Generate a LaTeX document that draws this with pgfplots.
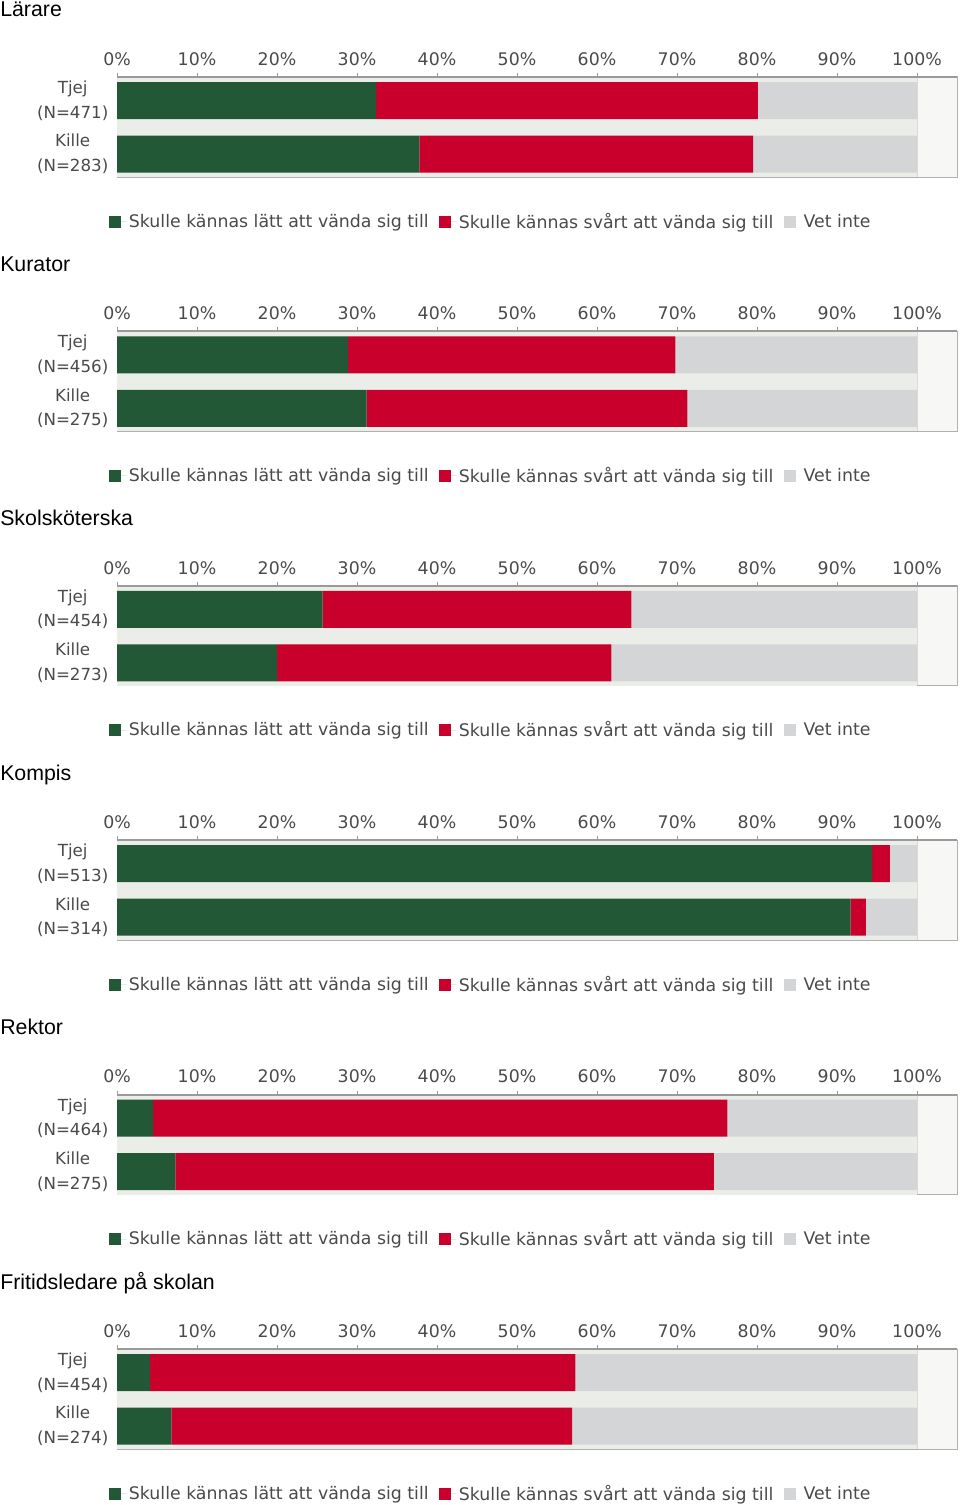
\documentclass[border=0pt]{standalone}
\usepackage{pgfplots}
\pgfplotsset{compat=1.18}
\usepackage{fontspec}
\setmainfont{Liberation Sans}
\newfontfamily\dejavu{DejaVu Sans}
\definecolor{cgreen}{HTML}{225835}
\definecolor{cred}{HTML}{C8002B}
\definecolor{cgray}{HTML}{D4D5D7}
\definecolor{bgout}{HTML}{F7F7F5}
\definecolor{bgin}{HTML}{EBEEE8}
\definecolor{gridc}{HTML}{DADDD6}
\definecolor{labc}{HTML}{4A4A4A}
\definecolor{framec}{HTML}{B0B0B0}
\definecolor{topc}{HTML}{9A9A9A}
\newcommand{\bgband}{\fill[on layer=axis background, bgin] (axis cs:0,-0.43) rectangle (axis cs:100,1.44);}
\pgfplotsset{
  panel/.style={
    set layers,
    scale only axis, width=630pt, height=75pt,
    anchor=north west,
    xbar stacked, bar width=27.75pt,
    xmin=0, xmax=105, ymin=-0.43, ymax=1.44,
    xtick={0,10,20,30,40,50,60,70,80,90,100},
    xticklabels={0\%,10\%,20\%,30\%,40\%,50\%,60\%,70\%,80\%,90\%,100\%},
    xtick pos=right, xticklabel pos=right,
    tick align=outside, major tick length=3pt,
    xtick style={draw=topc, line width=0.75pt},
    ytick={0,1}, ytick style={draw=none},
    xmajorgrids, grid style={draw=gridc, line width=0.75pt},
    axis background/.style={fill=bgout},
    axis line style={draw=framec, line width=0.75pt},
    xticklabel style={font=\dejavu\fontsize{13}{15}\selectfont, text=labc, yshift=2pt},
    yticklabel style={align=center, font=\dejavu\fontsize{12.5}{18.5}\selectfont, text=labc},
    legend columns=3,
    legend style={at={(rel axis cs:-0.0095,-0.445)}, anchor=west, draw=none, fill=none,
      inner sep=0pt, font=\dejavu\fontsize{13}{15}\selectfont, text=labc,
      /tikz/every even column/.append style={column sep=6pt}},
    legend image code/.code={\path[##1, draw=none] (0pt,-4.5pt) rectangle (9pt,4.5pt); \path (0pt,0pt) -- (12.75pt,0pt);},
    extra description/.code={\draw[topc, line width=1.5pt] (rel axis cs:0,1) -- (rel axis cs:1,1);},
  },
  sgreen/.style={draw=none, fill=cgreen},
  sred/.style={draw=none, fill=cred},
  sgray/.style={draw=none, fill=cgray},
}
\begin{document}
\begin{tikzpicture}
\tikzset{ttl/.style={anchor=base west, inner sep=0pt, font=\fontsize{16}{19}\selectfont}}
% Panel 1
\node[ttl] at (0pt,{-12.75pt-190.8pt*0}) {Lärare};
\begin{axis}[panel, at={(87.75pt,{-57.75pt-190.8pt*0})},
  yticklabels={{Kille\\(N=283)},{Tjej\\(N=471)}}]
\addplot[sgreen] coordinates {(32.4,1) (37.8,0)};
\addplot[sred] coordinates {(47.7,1) (41.7,0)};
\addplot[sgray] coordinates {(19.9,1) (20.5,0)};
\bgband
\legend{Skulle kännas lätt att vända sig till,Skulle kännas svårt att vända sig till,Vet inte}
\end{axis}
% Panel 2
\node[ttl] at (0pt,{-12.75pt-190.8pt*1}) {Kurator};
\begin{axis}[panel, at={(87.75pt,{-57.75pt-190.8pt*1})},
  yticklabels={{Kille\\(N=275)},{Tjej\\(N=456)}}]
\addplot[sgreen] coordinates {(28.9,1) (31.2,0)};
\addplot[sred] coordinates {(40.9,1) (40.1,0)};
\addplot[sgray] coordinates {(30.2,1) (28.7,0)};
\bgband
\legend{Skulle kännas lätt att vända sig till,Skulle kännas svårt att vända sig till,Vet inte}
\end{axis}
% Panel 3
\node[ttl] at (0pt,{-12.75pt-190.8pt*2}) {Skolsköterska};
\begin{axis}[panel, at={(87.75pt,{-57.75pt-190.8pt*2})},
  yticklabels={{Kille\\(N=273)},{Tjej\\(N=454)}}]
\addplot[sgreen] coordinates {(25.7,1) (20.0,0)};
\addplot[sred] coordinates {(38.6,1) (41.8,0)};
\addplot[sgray] coordinates {(35.7,1) (38.2,0)};
\bgband
\legend{Skulle kännas lätt att vända sig till,Skulle kännas svårt att vända sig till,Vet inte}
\end{axis}
% Panel 4
\node[ttl] at (0pt,{-12.75pt-190.8pt*3}) {Kompis};
\begin{axis}[panel, at={(87.75pt,{-57.75pt-190.8pt*3})},
  yticklabels={{Kille\\(N=314)},{Tjej\\(N=513)}}]
\addplot[sgreen] coordinates {(94.4,1) (91.7,0)};
\addplot[sred] coordinates {(2.2,1) (1.9,0)};
\addplot[sgray] coordinates {(3.4,1) (6.4,0)};
\bgband
\legend{Skulle kännas lätt att vända sig till,Skulle kännas svårt att vända sig till,Vet inte}
\end{axis}
% Panel 5
\node[ttl] at (0pt,{-12.75pt-190.8pt*4}) {Rektor};
\begin{axis}[panel, at={(87.75pt,{-57.75pt-190.8pt*4})},
  yticklabels={{Kille\\(N=275)},{Tjej\\(N=464)}}]
\addplot[sgreen] coordinates {(4.5,1) (7.3,0)};
\addplot[sred] coordinates {(71.8,1) (67.3,0)};
\addplot[sgray] coordinates {(23.7,1) (25.4,0)};
\bgband
\legend{Skulle kännas lätt att vända sig till,Skulle kännas svårt att vända sig till,Vet inte}
\end{axis}
% Panel 6
\node[ttl] at (0pt,{-12.75pt-190.8pt*5}) {Fritidsledare på skolan};
\begin{axis}[panel, at={(87.75pt,{-57.75pt-190.8pt*5})},
  yticklabels={{Kille\\(N=274)},{Tjej\\(N=454)}}]
\addplot[sgreen] coordinates {(4.1,1) (6.8,0)};
\addplot[sred] coordinates {(53.2,1) (50.1,0)};
\addplot[sgray] coordinates {(42.7,1) (43.1,0)};
\bgband
\legend{Skulle kännas lätt att vända sig till,Skulle kännas svårt att vända sig till,Vet inte}
\end{axis}
\useasboundingbox (0pt,0pt) rectangle (720pt,-1128.75pt);
\end{tikzpicture}
\end{document}
